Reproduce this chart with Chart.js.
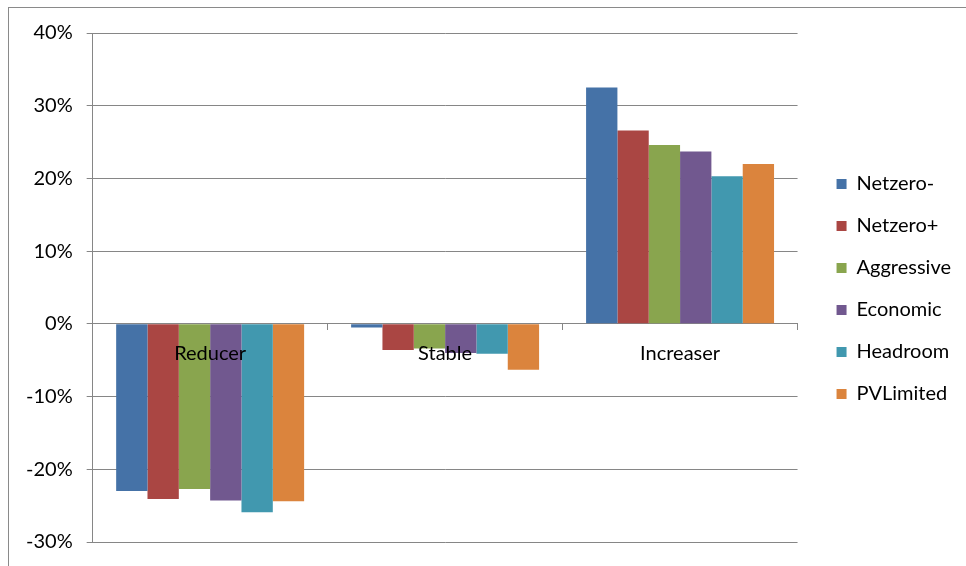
<!DOCTYPE html>
<html>
<head>
<meta charset="utf-8">
<title>Consumption change by segment</title>
<script src="https://cdn.jsdelivr.net/npm/chart.js@4.4.1/dist/chart.umd.min.js"></script>
<style>
    html, body { margin: 0; padding: 0; background: #fff; overflow: hidden; }
    #frame {
        position: absolute; left: 8px; top: 7px; width: 1000px; height: 600px;
        border-left: 1px solid #8a8a8a; border-top: 1px solid #8a8a8a;
    }
    #wrap { position: absolute; left: 0; top: 0; width: 966px; height: 566px; }
</style>
</head>
<body>
<div id="frame"></div>
<div id="wrap"><canvas id="chart"></canvas></div>
<script>
    // Segments along the x axis
    const segments = ['Reducer', 'Stable', 'Increaser'];

    // Change per scenario (%)
    const netzeroMinus = [-23.0, -0.5, 32.5];
    const netzeroPlus  = [-24.1, -3.6, 26.6];
    const aggressive   = [-22.7, -3.4, 24.6];
    const economic     = [-24.3, -4.0, 23.7];
    const headroom     = [-25.9, -4.1, 20.3];
    const pvLimited    = [-24.4, -6.3, 22.0];

    const scenarioNames = ['Netzero-', 'Netzero+', 'Aggressive', 'Economic', 'Headroom', 'PVLimited'];
    const scenarioValues = [netzeroMinus, netzeroPlus, aggressive, economic, headroom, pvLimited];
    const palette = ['#4572A7', '#AA4643', '#89A54E', '#71588F', '#4198AF', '#DB843D'];

    const axisGray = '#868686';
    const font = { family: 'Lato, "Open Sans", sans-serif', size: 20 };

    const datasets = scenarioNames.map((name, i) => ({
        label: name,
        data: scenarioValues[i],
        backgroundColor: palette[i],
        borderWidth: 0,
        categoryPercentage: 0.8,
        barPercentage: 1.0
    }));

    new Chart(document.getElementById('chart'), {
        type: 'bar',
        data: { labels: segments, datasets },
        options: {
            responsive: true,
            maintainAspectRatio: false,
            animation: false,
            layout: { padding: { top: 33, bottom: 21, left: 12, right: 5 } },
            plugins: {
                title: { display: false },
                tooltip: { enabled: false },
                legend: {
                    position: 'right',
                    labels: {
                        color: '#000',
                        font,
                        boxWidth: 10,
                        boxHeight: 10,
                        padding: 22
                    }
                }
            },
            scales: {
                x: {
                    position: { y: 0 },
                    grid: {
                        display: true,
                        drawOnChartArea: false,
                        drawTicks: true,
                        tickLength: 6,
                        color: axisGray,
                        offset: true
                    },
                    border: { display: true, color: axisGray, width: 1 },
                    // labels sit on top of the bars
                    ticks: { color: '#000', font, padding: 12, maxRotation: 0, z: 1 }
                },
                y: {
                    min: -30,
                    max: 40,
                    grid: { color: axisGray, tickLength: 6, lineWidth: 1 },
                    border: { display: true, color: axisGray, width: 1 },
                    ticks: {
                        stepSize: 10,
                        color: '#000',
                        font: { ...font, lineHeight: 1.0 },
                        padding: 14,
                        callback: v => v + '%'
                    }
                },
                // empty spacer between plot and legend
                gap: {
                    type: 'linear',
                    position: 'right',
                    grid: { display: false },
                    border: { display: false },
                    ticks: { display: false },
                    afterFit: scale => { scale.width = 17; }
                }
            }
        }
    });
</script>
</body>
</html>
